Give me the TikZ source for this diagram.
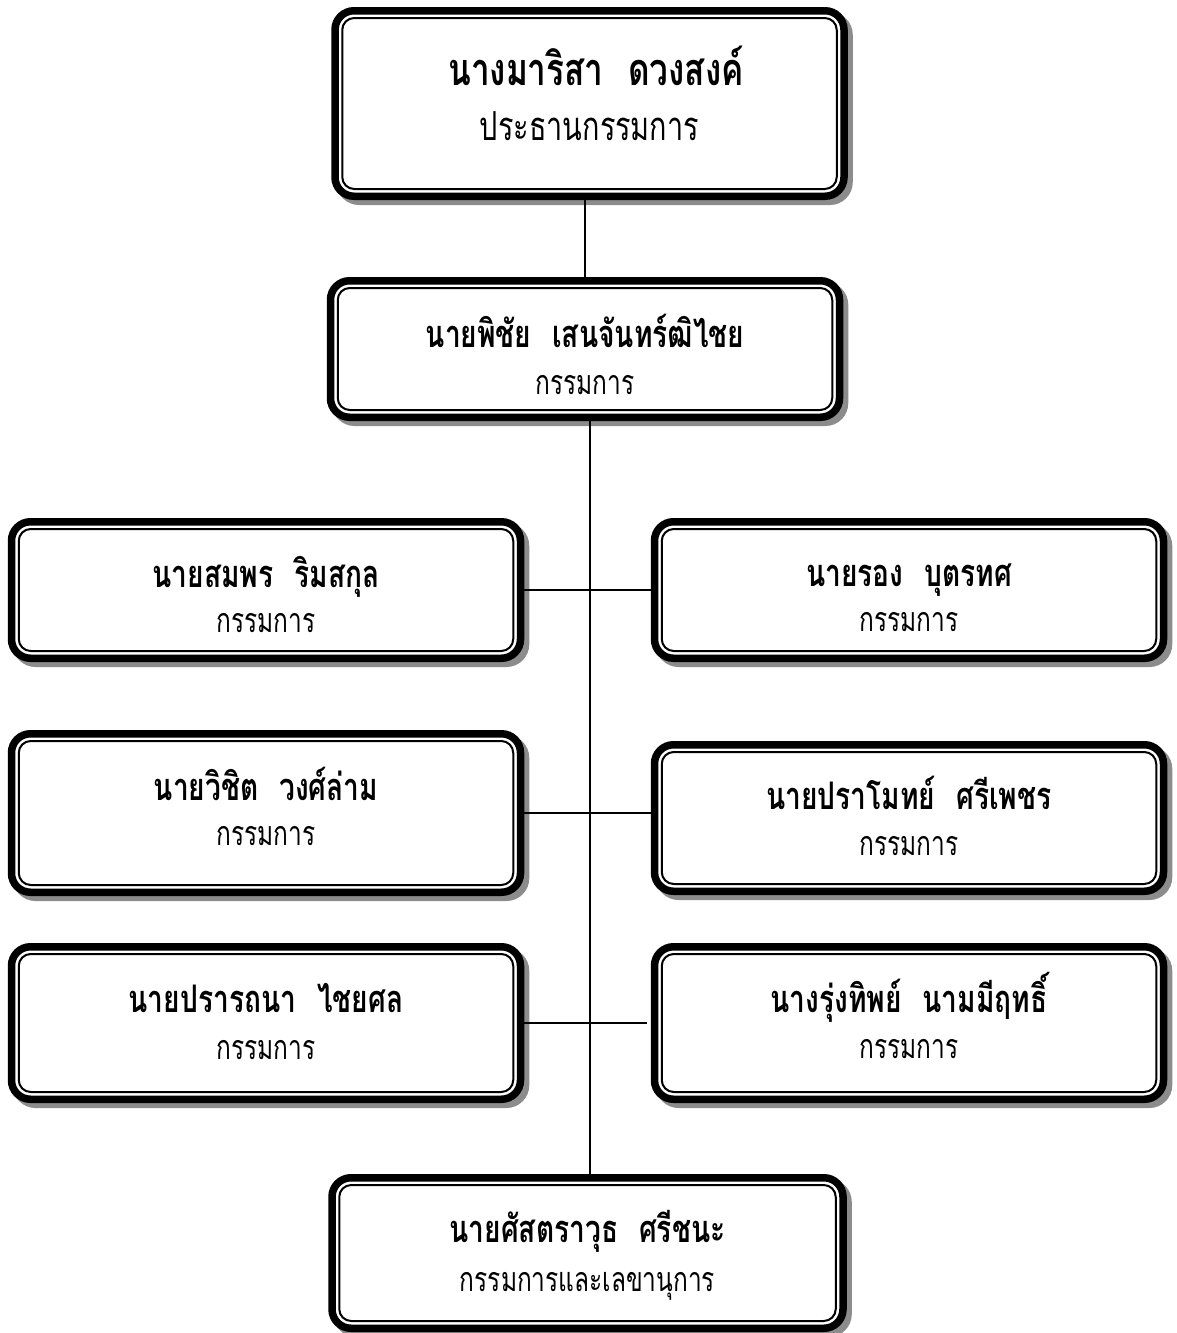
\documentclass[tikz,border=0pt]{standalone}
\usepackage{fontspec}
\usetikzlibrary{shadows}
\newfontfamily\namefont[Script=Thai,FakeStretch=0.74]{Loma}
\newfontfamily\postfont[Script=Thai,FakeStretch=0.72]{Loma}
\definecolor{shadowgray}{gray}{0.55}

\begin{document}
\begin{tikzpicture}[x=1pt,y=-1pt,
    member/.style={rectangle,draw,fill=white,line width=7.5pt,rounded corners=19pt,
      outer sep=0pt,inner sep=0pt,minimum width=509pt,
      drop shadow={shadow xshift=5pt,shadow yshift=-5pt,opacity=1,
        fill=shadowgray,draw=shadowgray,line width=7.5pt}},
    inner line/.style={line width=2pt,rounded corners=12pt},
    person/.style={anchor=base,font=\namefont\bfseries\fontsize{38}{44}\selectfont},
    post/.style={anchor=base,font=\postfont\fontsize{34}{40}\selectfont},
    link/.style={line width=1.6pt}]
   \useasboundingbox (0,0) rectangle (1176,1333);
   \node (b0) at (589.5, 103.5) [member,minimum height=185.5pt] {};
   \node (b1) at (585,   349)   [member,minimum height=136.5pt] {};
   \node (b2) at (266,   590)   [member,minimum height=136.5pt] {};
   \node (b3) at (909,   590)   [member,minimum height=136.5pt] {};
   \node (b4) at (266,   813)   [member,minimum height=158.5pt] {};
   \node (b5) at (909,   818)   [member,minimum height=146.5pt] {};
   \node (b6) at (266,  1023)   [member,minimum height=152.5pt] {};
   \node (b7) at (909,  1023)   [member,minimum height=152.5pt] {};
   \node (b8) at (587.5,1253)   [member,minimum height=150.5pt,minimum width=511pt] {};
   \foreach \b in {b0,b1,b2,b3,b4,b5,b6,b7,b8}
     \draw[inner line] ([shift={(7.25pt,-7.25pt)}]\b.north west) rectangle ([shift={(-7.25pt,7.25pt)}]\b.south east);
   % the chair's box is set larger
   \node (n0) at (596,    85) [person,font=\namefont\bfseries\fontsize{45}{52}\selectfont] {นางมาริสา\hspace{0.55em}ดวงสงค์};
   \node (p0) at (589.5, 140) [post,font=\postfont\fontsize{40}{46}\selectfont] {ประธานกรรมการ};
   \node (n1) at (585,   347) [person] {นายพิชัย\hspace{0.55em}เสนจันทร์ฒิไชย};
   \node (p1) at (585,   394) [post] {กรรมการ};
   \node (n2) at (266,   587) [person] {นายสมพร\hspace{0.55em}ริมสกุล};
   \node (p2) at (266,   632) [post] {กรรมการ};
   \node (n3) at (909,   586) [person] {นายรอง\hspace{0.55em}บุตรทศ};
   \node (p3) at (909,   631) [post] {กรรมการ};
   \node (n4) at (266,   800) [person] {นายวิชิต\hspace{0.55em}วงศ์ล่าม};
   \node (p4) at (266,   845) [post] {กรรมการ};
   \node (n5) at (909,   809) [person] {นายปราโมทย์\hspace{0.55em}ศรีเพชร};
   \node (p5) at (909,   855) [post] {กรรมการ};
   \node (n6) at (266,  1012) [person] {นายปรารถนา\hspace{0.55em}ไชยศล};
   \node (p6) at (266,  1059) [post] {กรรมการ};
   \node (n7) at (909,  1012) [person] {นางรุ่งทิพย์\hspace{0.55em}นามมีฤทธิ์};
   \node (p7) at (909,  1058) [post] {กรรมการ};
   \node (n8) at (587.5,1242) [person] {นายศัสตราวุธ\hspace{0.55em}ศรีชนะ};
   \node (p8) at (587.5,1291) [post] {กรรมการและเลขานุการ};
   \coordinate (trunk) at (590,0);
   \draw[link] (b1.north |- b0.south) to (b1.north);
   \draw[link] (trunk |- b1.south) to (trunk |- b8.north);
   \draw[link,line width=2pt] (b2.east) to (b3.west);
   \draw[link,line width=2pt] (b4.east) to (b4.east -| b5.west);
   \draw[link,line width=2pt,shorten >=8pt] (b6.east) to (b7.west);
\end{tikzpicture}
\end{document}
